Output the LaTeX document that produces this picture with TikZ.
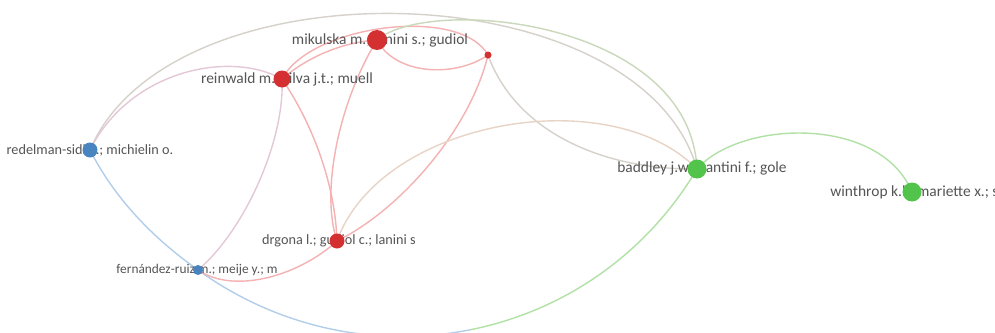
\documentclass[tikz,border=0pt]{standalone}
\usepackage{fontspec}
\setmainfont{Carlito}
\pgfdeclarelayer{edges}
\pgfdeclarelayer{labels}
\pgfsetlayers{edges,labels,main}
\definecolor{nodered}{RGB}{212,48,50}
\definecolor{nodeblue}{RGB}{72,132,192}
\definecolor{nodegreen}{RGB}{82,196,76}
\definecolor{edgered}{RGB}{245,178,178}
\definecolor{edgeblue}{RGB}{178,206,234}
\definecolor{edgegreen}{RGB}{178,225,166}
\definecolor{edgegray}{RGB}{214,210,203}
\definecolor{edgeolive}{RGB}{202,216,188}
\definecolor{edgetan}{RGB}{232,212,198}
\definecolor{edgemix}{RGB}{228,200,216}
\definecolor{labelgray}{RGB}{85,85,85}
\tikzset{
  vnode/.style={circle, inner sep=0pt, draw=none},
  lab/.style={text=labelgray, inner sep=0pt},
  big/.style={font=\fontsize{8.8}{10}\selectfont},
  mid/.style={font=\fontsize{8.1}{10}\selectfont},
  small/.style={font=\fontsize{7.6}{9}\selectfont},
  link/.style={line width=0.8pt, line cap=round},
}
\begin{document}
\begin{tikzpicture}[x=0.02cm, y=-0.02cm]
\useasboundingbox (0,0) rectangle (995,332);
\clip (0,0) rectangle (995,332);

% nodes
\node[vnode, fill=nodered, minimum size=0.40cm] (M) at (377,40) {};
\node[vnode, fill=nodered, minimum size=0.34cm] (Rw) at (282,79) {};
\node[vnode, fill=nodered, minimum size=0.14cm] (S) at (488,55) {};
\node[vnode, fill=nodered, minimum size=0.30cm] (D) at (337,241) {};
\node[vnode, fill=nodeblue, minimum size=0.30cm] (Rd) at (90,150) {};
\node[vnode, fill=nodeblue, minimum size=0.20cm] (F) at (198,270) {};
\node[vnode, fill=nodegreen, minimum size=0.38cm] (B) at (697,169) {};
\node[vnode, fill=nodegreen, minimum size=0.38cm] (W) at (912,192) {};

% labels
\begin{pgfonlayer}{labels}
\node[lab, big] (Mlab) at (380,40) {mikulska m.; lanini s.; gudiol};
\node[lab, big] (Rwlab) at (287,79) {reinwald m.; silva j.t.; muell};
\node[lab, mid] (Rdlab) at (90,151) {redelman-sidi g.; michielin o.};
\node[lab, mid] (Dlab) at (339,241) {drgona l.; gudiol c.; lanini s};
\node[lab, small] (Flab) at (197,270) {fernández-ruiz m.; meije y.; m};
\node[lab, big] (Blab) at (702,168) {baddley j.w.; cantini f.; gole};
\node[lab, big, anchor=west] (Wlab) at (830,192) {winthrop k.l.; mariette x.; s};
\end{pgfonlayer}

% edges
\begin{pgfonlayer}{edges}
\fill[white] (0,0) rectangle (995,332);
\coordinate (BM) at (470.4,329.75);
\draw[link, edgegray] (Rd.center) .. controls (170,-40) and (640,-30) .. (B.center);
\draw[link, edgemix] (Rd.center) .. controls (130,70) and (230,50) .. (Rw.center);
\draw[link, edgeblue] (Rd.center) .. controls (115,199) and (153,238) .. (F.center);
\draw[link, edgeblue] (F.center) .. controls (280.5,329.5) and (379.25,348) .. (BM);
\draw[link, edgegreen] (BM) .. controls (561.5,311.5) and (645,256.5) .. (B.center);
\draw[link, edgemix] (F.center) .. controls (245,230) and (285,140) .. (Rw.center);
\draw[link, edgered] (F.center) .. controls (235,295) and (300,275) .. (D.center);
\draw[link, edgered] (Rw.center) .. controls (310,55) and (345,42) .. (M.center);
\draw[link, edgered] (Rw.center) .. controls (310,120) and (335,180) .. (D.center);
\draw[link, edgered] (Rw.center) .. controls (310,25) and (460,5) .. (S.center);
\draw[link, edgered] (M.center) .. controls (395,75) and (455,78) .. (S.center);
\draw[link, edgeolive] (M.center) .. controls (430,-5) and (690,20) .. (B.center);
\draw[link, edgered] (M.center) .. controls (340,100) and (320,190) .. (D.center);
\draw[link, edgegray] (S.center) .. controls (515,130) and (600,170) .. (B.center);
\draw[link, edgered] (S.center) .. controls (470,130) and (400,210) .. (D.center);
\draw[link, edgetan] (D.center) .. controls (380,120) and (610,80) .. (B.center);
\draw[link, edgegreen] (B.center) .. controls (740,120) and (880,115) .. (W.center);
\end{pgfonlayer}
\end{tikzpicture}
\end{document}
